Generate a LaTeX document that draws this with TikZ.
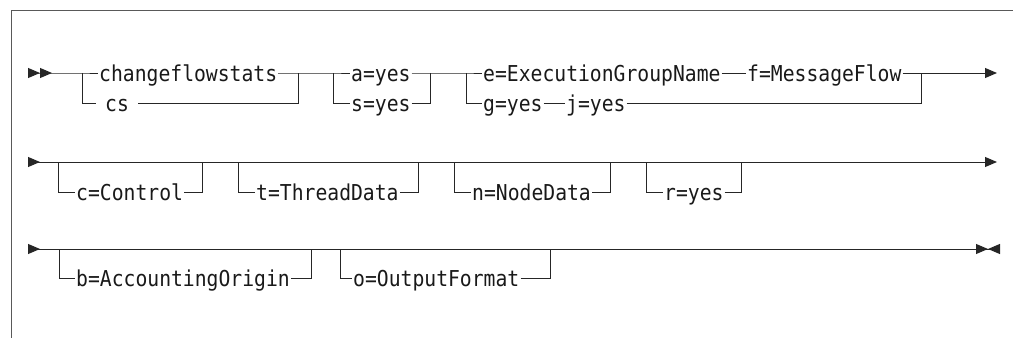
\documentclass[tikz,border=0pt]{standalone}
\usepackage{fontspec}
\newfontfamily\synfont[FakeStretch=0.9]{DejaVu Sans Mono}
\usetikzlibrary{arrows.meta}
\tikzset{tri/.tip={Triangle[length=12pt,width=10pt]}}

\begin{document}
\begin{tikzpicture}[x=1pt,y=-1pt]
    % --- 样式设置 ---
    \tikzstyle{rail}=[line width=1pt, black!85]
    \tikzstyle{kw}=[anchor=west, inner xsep=1pt, inner ysep=0pt, text height=16pt, text depth=0pt, text=black!90, font=\synfont\fontsize{21.9}{22}\selectfont]
    \tikzstyle{frame}=[line width=1.6pt, black!65]

    \useasboundingbox (0,0) rectangle (1013,338);

    % 0. 外框 (上边和左边)
    \draw[frame] (1013,10.5) -- (11.5,10.5) -- (11.5,338);

    % 1. 第一行: 命令和必选参数
    \coordinate (r1s) at (28,73);
    \coordinate (b1) at (82,73);
    \node[kw] (cfs) at (98,73) {changeflowstats};
    \node[kw, inner xsep=9pt] (cs) at (96,103) {cs};
    \coordinate (j1) at (298,73);
    \coordinate (b2) at (333,73);
    \node[kw] (ayes) at (350,73) {a=yes};
    \node[kw] (syes) at (350,103) {s=yes};
    \coordinate (j2) at (430,73);
    \coordinate (b3) at (466,73);
    \node[kw] (egn) at (482,73) {e=ExecutionGroupName};
    \node[kw] (mf) at (746,73) {f=MessageFlow};
    \node[kw] (gyes) at (482,103) {g=yes};
    \node[kw] (jyes) at (565,103) {j=yes};
    \coordinate (j3) at (921,73);
    \coordinate (r1e) at (997,73);

    \draw[rail, {tri[reversed]tri[reversed]}-] (r1s) -- (b1) -- (cfs);
    \draw[rail] (b1) |- (cs);
    \draw[rail] (cfs) -- (b2) -- (ayes);
    \draw[rail] (cs) -| (j1);
    \draw[rail] (b2) |- (syes);
    \draw[rail] (ayes) -- (b3) -- (egn);
    \draw[rail] (syes) -| (j2);
    \draw[rail] (egn) -- (mf);
    \draw[rail, -tri] (mf) -- (r1e);
    \draw[rail] (b3) |- (gyes);
    \draw[rail] (gyes) -- (jyes);
    \draw[rail] (jyes) -| (j3);

    % 2. 第二行: 可选参数
    \coordinate (r2s) at (28,162);
    \coordinate (r2e) at (997,162);
    \draw[rail, {tri[reversed]}-tri] (r2s) -- (r2e);

    \coordinate (c1) at (58,162);
    \coordinate (c2) at (202,162);
    \node[kw] (ctl) at (75,192) {c=Control};
    \draw[rail] (c1) |- (ctl);
    \draw[rail] (ctl) -| (c2);

    \coordinate (t1) at (238,162);
    \coordinate (t2) at (418,162);
    \node[kw] (thd) at (255,192) {t=ThreadData};
    \draw[rail] (t1) |- (thd);
    \draw[rail] (thd) -| (t2);

    \coordinate (n1) at (454,162);
    \coordinate (n2) at (610,162);
    \node[kw] (nod) at (471,192) {n=NodeData};
    \draw[rail] (n1) |- (nod);
    \draw[rail] (nod) -| (n2);

    \coordinate (y1) at (646,162);
    \coordinate (y2) at (741,162);
    \node[kw] (ryes) at (663,192) {r=yes};
    \draw[rail] (y1) |- (ryes);
    \draw[rail] (ryes) -| (y2);

    % 3. 第三行: 可选参数和结束
    \coordinate (r3s) at (28,249);
    \coordinate (r3e) at (1000,249);
    \draw[rail, {tri[reversed]}-{tri[]tri[reversed]}] (r3s) -- (r3e);

    \coordinate (a1) at (59,249);
    \coordinate (a2) at (311,249);
    \node[kw] (acc) at (75,278) {b=AccountingOrigin};
    \draw[rail] (a1) |- (acc);
    \draw[rail] (acc) -| (a2);

    \coordinate (o1) at (340,249);
    \coordinate (o2) at (550,249);
    \node[kw] (out) at (352,278) {o=OutputFormat};
    \draw[rail] (o1) |- (out);
    \draw[rail] (out) -| (o2);

\end{tikzpicture}
\end{document}
